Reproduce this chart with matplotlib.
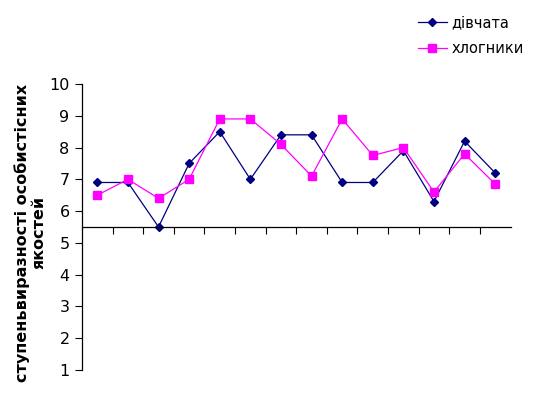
import matplotlib.pyplot as plt

# data
positions = list(range(1, 15))
girls = [6.9, 6.9, 5.5, 7.5, 8.5, 7.0, 8.4, 8.4, 6.9, 6.9, 7.9, 6.3, 8.2, 7.2]
boys = [6.5, 7.0, 6.4, 7.0, 8.9, 8.9, 8.1, 7.1, 8.9, 7.75, 8.0, 6.6, 7.8, 6.85]
yticks = list(range(1, 11))

fig = plt.figure(figsize=(5.34, 3.98), dpi=100)
ax = fig.add_axes([0.1536, 0.0704, 0.8024, 0.7186])

l1, = ax.plot(positions, girls, color='#000080', marker='D', markersize=4,
              linewidth=0.9, label='дівчата')
l2, = ax.plot(positions, boys, color='#FF00FF', marker='s', markersize=5.5,
              linewidth=0.9, label='хлогники')

ax.set_xlim(0.5, 14.5)
ax.set_ylim(1, 10)
ax.set_yticks(yticks)
ax.tick_params(axis='y', direction='out', length=5, labelsize=11.5, pad=4)

# x axis crosses at 5.5, ticks between categories
ax.spines['bottom'].set_position(('data', 5.5))
ax.spines['top'].set_visible(False)
ax.spines['right'].set_visible(False)
ax.spines['left'].set_linewidth(0.9)
ax.spines['bottom'].set_linewidth(0.9)
ax.set_xticks([p + 0.5 for p in positions[:-1]])
ax.set_xticklabels([])
ax.tick_params(axis='x', direction='out', length=5)

ax.set_ylabel('ступеньвиразності особистісних\nякостей', fontsize=11.5,
              fontweight='bold', linespacing=1.15)
ax.yaxis.set_label_coords(-0.082, 0.48)

fig.legend(handles=[l1, l2], loc='upper left', bbox_to_anchor=(0.758, 0.995),
           frameon=False, fontsize=10.5, handlelength=2.0, handletextpad=0.3,
           labelspacing=0.75)

fig.savefig('out.png', dpi=100)
